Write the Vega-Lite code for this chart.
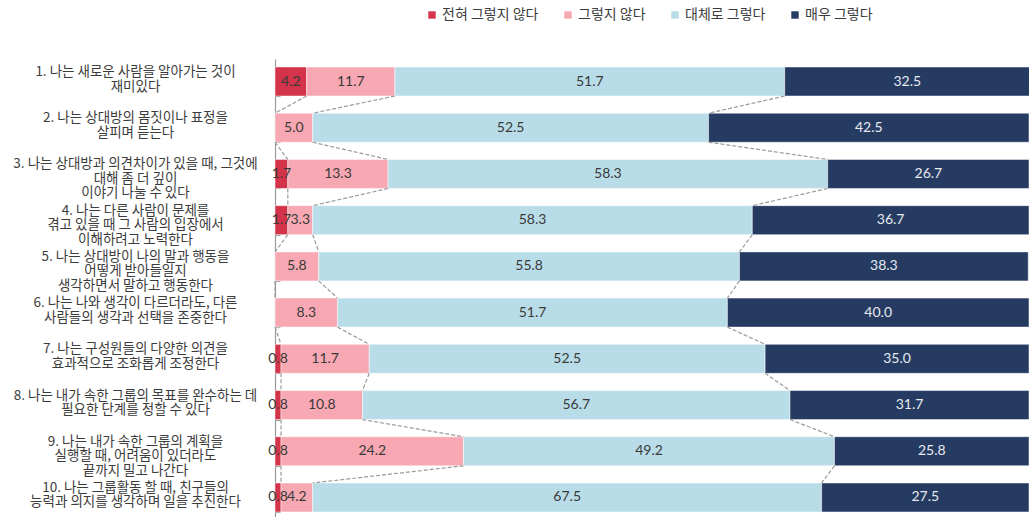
{
  "$schema": "https://vega.github.io/schema/vega-lite/v6.json",
  "autosize": "none",
  "width": 754,
  "height": 461,
  "padding": {"left": 275, "top": 59, "right": 0, "bottom": 0},
  "background": "white",
  "config": {"view": {"stroke": null}},
  "data": {"values": [
    {"q": "01. 나는 새로운 사람을 알아가는 것이|재미있다", "s": "전혀 그렇지 않다", "k": 1, "v": 4.2},
    {"q": "01. 나는 새로운 사람을 알아가는 것이|재미있다", "s": "그렇지 않다", "k": 2, "v": 11.7},
    {"q": "01. 나는 새로운 사람을 알아가는 것이|재미있다", "s": "대체로 그렇다", "k": 3, "v": 51.7},
    {"q": "01. 나는 새로운 사람을 알아가는 것이|재미있다", "s": "매우 그렇다", "k": 4, "v": 32.5},
    {"q": "02. 나는 상대방의 몸짓이나 표정을|살피며 듣는다", "s": "전혀 그렇지 않다", "k": 1, "v": 0},
    {"q": "02. 나는 상대방의 몸짓이나 표정을|살피며 듣는다", "s": "그렇지 않다", "k": 2, "v": 5.0},
    {"q": "02. 나는 상대방의 몸짓이나 표정을|살피며 듣는다", "s": "대체로 그렇다", "k": 3, "v": 52.5},
    {"q": "02. 나는 상대방의 몸짓이나 표정을|살피며 듣는다", "s": "매우 그렇다", "k": 4, "v": 42.5},
    {"q": "03. 나는 상대방과 의견차이가 있을 때, 그것에|대해 좀 더 깊이|이야기 나눌 수 있다", "s": "전혀 그렇지 않다", "k": 1, "v": 1.7},
    {"q": "03. 나는 상대방과 의견차이가 있을 때, 그것에|대해 좀 더 깊이|이야기 나눌 수 있다", "s": "그렇지 않다", "k": 2, "v": 13.3},
    {"q": "03. 나는 상대방과 의견차이가 있을 때, 그것에|대해 좀 더 깊이|이야기 나눌 수 있다", "s": "대체로 그렇다", "k": 3, "v": 58.3},
    {"q": "03. 나는 상대방과 의견차이가 있을 때, 그것에|대해 좀 더 깊이|이야기 나눌 수 있다", "s": "매우 그렇다", "k": 4, "v": 26.7},
    {"q": "04. 나는 다른 사람이 문제를|겪고 있을 때 그 사람의 입장에서|이해하려고 노력한다", "s": "전혀 그렇지 않다", "k": 1, "v": 1.7},
    {"q": "04. 나는 다른 사람이 문제를|겪고 있을 때 그 사람의 입장에서|이해하려고 노력한다", "s": "그렇지 않다", "k": 2, "v": 3.3},
    {"q": "04. 나는 다른 사람이 문제를|겪고 있을 때 그 사람의 입장에서|이해하려고 노력한다", "s": "대체로 그렇다", "k": 3, "v": 58.3},
    {"q": "04. 나는 다른 사람이 문제를|겪고 있을 때 그 사람의 입장에서|이해하려고 노력한다", "s": "매우 그렇다", "k": 4, "v": 36.7},
    {"q": "05. 나는 상대방이 나의 말과 행동을|어떻게 받아들일지|생각하면서 말하고 행동한다", "s": "전혀 그렇지 않다", "k": 1, "v": 0},
    {"q": "05. 나는 상대방이 나의 말과 행동을|어떻게 받아들일지|생각하면서 말하고 행동한다", "s": "그렇지 않다", "k": 2, "v": 5.8},
    {"q": "05. 나는 상대방이 나의 말과 행동을|어떻게 받아들일지|생각하면서 말하고 행동한다", "s": "대체로 그렇다", "k": 3, "v": 55.8},
    {"q": "05. 나는 상대방이 나의 말과 행동을|어떻게 받아들일지|생각하면서 말하고 행동한다", "s": "매우 그렇다", "k": 4, "v": 38.3},
    {"q": "06. 나는 나와 생각이 다르더라도, 다른|사람들의 생각과 선택을 존중한다", "s": "전혀 그렇지 않다", "k": 1, "v": 0},
    {"q": "06. 나는 나와 생각이 다르더라도, 다른|사람들의 생각과 선택을 존중한다", "s": "그렇지 않다", "k": 2, "v": 8.3},
    {"q": "06. 나는 나와 생각이 다르더라도, 다른|사람들의 생각과 선택을 존중한다", "s": "대체로 그렇다", "k": 3, "v": 51.7},
    {"q": "06. 나는 나와 생각이 다르더라도, 다른|사람들의 생각과 선택을 존중한다", "s": "매우 그렇다", "k": 4, "v": 40.0},
    {"q": "07. 나는 구성원들의 다양한 의견을|효과적으로 조화롭게 조정한다", "s": "전혀 그렇지 않다", "k": 1, "v": 0.8},
    {"q": "07. 나는 구성원들의 다양한 의견을|효과적으로 조화롭게 조정한다", "s": "그렇지 않다", "k": 2, "v": 11.7},
    {"q": "07. 나는 구성원들의 다양한 의견을|효과적으로 조화롭게 조정한다", "s": "대체로 그렇다", "k": 3, "v": 52.5},
    {"q": "07. 나는 구성원들의 다양한 의견을|효과적으로 조화롭게 조정한다", "s": "매우 그렇다", "k": 4, "v": 35.0},
    {"q": "08. 나는 내가 속한 그룹의 목표를 완수하는 데|필요한 단계를 정할 수 있다", "s": "전혀 그렇지 않다", "k": 1, "v": 0.8},
    {"q": "08. 나는 내가 속한 그룹의 목표를 완수하는 데|필요한 단계를 정할 수 있다", "s": "그렇지 않다", "k": 2, "v": 10.8},
    {"q": "08. 나는 내가 속한 그룹의 목표를 완수하는 데|필요한 단계를 정할 수 있다", "s": "대체로 그렇다", "k": 3, "v": 56.7},
    {"q": "08. 나는 내가 속한 그룹의 목표를 완수하는 데|필요한 단계를 정할 수 있다", "s": "매우 그렇다", "k": 4, "v": 31.7},
    {"q": "09. 나는 내가 속한 그룹의 계획을|실행할 때, 어려움이 있더라도|끝까지 밀고 나간다", "s": "전혀 그렇지 않다", "k": 1, "v": 0.8},
    {"q": "09. 나는 내가 속한 그룹의 계획을|실행할 때, 어려움이 있더라도|끝까지 밀고 나간다", "s": "그렇지 않다", "k": 2, "v": 24.2},
    {"q": "09. 나는 내가 속한 그룹의 계획을|실행할 때, 어려움이 있더라도|끝까지 밀고 나간다", "s": "대체로 그렇다", "k": 3, "v": 49.2},
    {"q": "09. 나는 내가 속한 그룹의 계획을|실행할 때, 어려움이 있더라도|끝까지 밀고 나간다", "s": "매우 그렇다", "k": 4, "v": 25.8},
    {"q": "10. 나는 그룹활동 할 때, 친구들의|능력과 의지를 생각하며 일을 추진한다", "s": "전혀 그렇지 않다", "k": 1, "v": 0.8},
    {"q": "10. 나는 그룹활동 할 때, 친구들의|능력과 의지를 생각하며 일을 추진한다", "s": "그렇지 않다", "k": 2, "v": 4.2},
    {"q": "10. 나는 그룹활동 할 때, 친구들의|능력과 의지를 생각하며 일을 추진한다", "s": "대체로 그렇다", "k": 3, "v": 67.5},
    {"q": "10. 나는 그룹활동 할 때, 친구들의|능력과 의지를 생각하며 일을 추진한다", "s": "매우 그렇다", "k": 4, "v": 27.5}
  ]},
  "transform": [
    {"stack": "v", "groupby": ["q"], "sort": [{"field": "k", "order": "ascending"}], "as": ["x0", "x1"]}
  ],
  "encoding": {
    "y": {
      "field": "q", "type": "nominal", "sort": "ascending",
      "scale": {"paddingInner": 0.372, "paddingOuter": 0.173},
      "axis": {
        "title": null,
        "domainColor": "#9a9a9a", "domainWidth": 1.2,
        "ticks": true, "tickBand": "extent", "tickSize": -5, "tickColor": "#9a9a9a", "tickWidth": 1.2,
        "labelAlign": "center", "labelBaseline": "middle", "labelPadding": 145,
        "labelOffset": -10,
        "labelLimit": 320, "labelOverlap": false,
        "labelFont": "Noto Sans CJK KR", "labelFontSize": 13.5, "labelColor": "#3c3c3c", "labelLineHeight": 14.5,
        "labelExpr": "split(datum.label[0] == '0' ? substring(datum.label, 1) : datum.label, '|')"
      }
    },
    "x": {"type": "quantitative", "scale": {"domain": [0, 100], "nice": false}, "axis": null}
  },
  "layer": [
    {
      "transform": [{"filter": "datum.v > 0"}],
      "mark": {"type": "bar", "stroke": "white", "strokeWidth": 0.7, "strokeOpacity": 0.7},
      "encoding": {
        "x": {"field": "x0", "type": "quantitative"},
        "x2": {"field": "x1"},
        "color": {
          "field": "s", "type": "nominal",
          "scale": {"domain": ["전혀 그렇지 않다", "그렇지 않다", "대체로 그렇다", "매우 그렇다"], "range": ["#d3344a", "#f7a8b2", "#b9dde8", "#253b62"]},
          "legend": {
            "title": null, "orient": "none", "legendX": 150, "legendY": -51, "direction": "horizontal",
            "symbolType": "square", "symbolSize": 55, "symbolStrokeWidth": 0,
            "labelFont": "Noto Sans CJK KR", "labelFontSize": 14, "labelColor": "#3c3c3c",
            "labelOffset": 3, "columnPadding": 22
          }
        }
      }
    },
    {
      "transform": [
        {"window": [{"op": "lead", "field": "x1", "as": "nx"}, {"op": "lead", "field": "q", "as": "nq"}], "groupby": ["k"], "sort": [{"field": "q", "order": "ascending"}]},
        {"filter": "datum.k < 4 && datum.nq != null"}
      ],
      "mark": {"type": "rule", "color": "#9a9a9a", "strokeWidth": 1.2, "strokeDash": [4, 2]},
      "encoding": {
        "x": {"field": "x1", "type": "quantitative"},
        "x2": {"field": "nx"},
        "y": {"field": "q", "type": "nominal", "bandPosition": 1},
        "y2": {"field": "nq", "bandPosition": 0}
      }
    },
    {
      "transform": [{"filter": "datum.v > 0"}, {"calculate": "(datum.x0 + datum.x1) / 2", "as": "m"}],
      "mark": {"type": "text", "font": "Lato", "fontSize": 14, "baseline": "middle", "align": "center"},
      "encoding": {
        "x": {"field": "m", "type": "quantitative"},
        "text": {"field": "v", "type": "quantitative", "format": ".1f"},
        "color": {"condition": {"test": "datum.k == 4", "value": "#e6eaf0"}, "value": "#3a3a3a"}
      }
    }
  ]
}
